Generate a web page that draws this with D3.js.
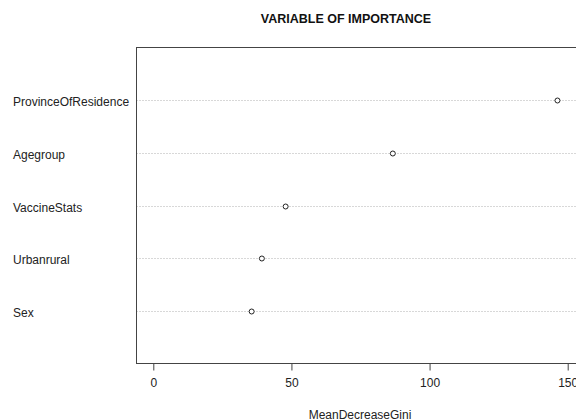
<!DOCTYPE html>
<html>
<head>
<meta charset="utf-8">
<script src="https://cdn.jsdelivr.net/npm/d3@7"></script>
<style>
  body { margin: 0; background: #fff; }
  text { font-family: "Liberation Sans", Arial, sans-serif; }
</style>
</head>
<body>
<div id="chart"></div>
<script>
// variable importance (top to bottom)
const variables = ["ProvinceOfResidence", "Agegroup", "VaccineStats", "Urbanrural", "Sex"];
const giniValues = [146.3, 86.7, 47.9, 39.3, 35.6];
const xTicks = [0, 50, 100, 150];

const width = 576;
const height = 420;

const box = { left: 136.5, top: 47.5, right: 600, bottom: 363.5 };

const svg = d3.select("#chart")
  .append("svg")
  .attr("width", width)
  .attr("height", height);

const x = d3.scaleLinear()
  .domain([0, 150])
  .range([153.3, 567.7]);

const y = d3.scalePoint()
  .domain(variables)
  .range([box.top, box.bottom])
  .padding(1);

// title
svg.append("text")
  .attr("x", 346)
  .attr("y", 23)
  .attr("text-anchor", "middle")
  .attr("font-size", 12.5)
  .attr("font-weight", "bold")
  .attr("fill", "#111")
  .text("VARIABLE OF IMPORTANCE");

// dotted guide lines
svg.append("g")
  .selectAll("line")
  .data(variables)
  .join("line")
    .attr("x1", box.left)
    .attr("x2", box.right)
    .attr("y1", d => Math.round(y(d)) + 0.5)
    .attr("y2", d => Math.round(y(d)) + 0.5)
    .attr("stroke", "#b0b0b0")
    .attr("stroke-width", 1)
    .attr("stroke-dasharray", "1,2");

// row labels
svg.append("g")
  .selectAll("text")
  .data(variables)
  .join("text")
    .attr("x", 13)
    .attr("y", d => y(d) + 6)
    .attr("font-size", 12)
    .attr("fill", "#222")
    .text(d => d);

// points
svg.append("g")
  .selectAll("circle")
  .data(variables)
  .join("circle")
    .attr("cx", (d, i) => x(giniValues[i]))
    .attr("cy", d => Math.round(y(d)) + 0.5)
    .attr("r", 2.5)
    .attr("fill", "#fff")
    .attr("stroke", "#222")
    .attr("stroke-width", 1);

// plot box
svg.append("rect")
  .attr("x", box.left)
  .attr("y", box.top)
  .attr("width", box.right - box.left)
  .attr("height", box.bottom - box.top)
  .attr("fill", "none")
  .attr("stroke", "#444")
  .attr("stroke-width", 1);

// x axis
const xAxis = d3.axisBottom(x)
  .tickValues(xTicks)
  .tickSize(7)
  .tickPadding(8)
  .tickSizeOuter(0);

const axisG = svg.append("g")
  .attr("transform", `translate(0,${box.bottom})`)
  .call(xAxis);

axisG.select(".domain").remove();
axisG.selectAll("line").attr("stroke", "#444");
axisG.selectAll("text")
  .attr("font-size", 12)
  .attr("fill", "#222")
  .attr("font-family", "Liberation Sans, Arial, sans-serif");

svg.append("text")
  .attr("x", 360)
  .attr("y", 418.5)
  .attr("text-anchor", "middle")
  .attr("font-size", 12)
  .attr("fill", "#222")
  .text("MeanDecreaseGini");
</script>
</body>
</html>
